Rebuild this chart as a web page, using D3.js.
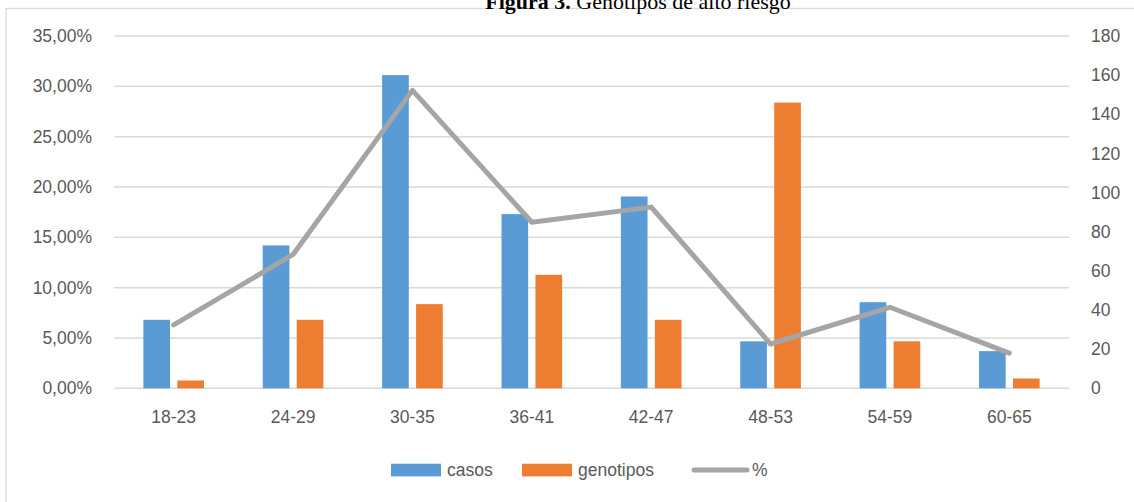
<!DOCTYPE html>
<html>
<head>
<meta charset="utf-8">
<script src="https://cdn.jsdelivr.net/npm/d3@7"></script>
<style>
  html, body { margin: 0; padding: 0; background: #fff; }
  svg { display: block; }
</style>
</head>
<body>
<svg id="chart" width="1134" height="502"></svg>
<script>
const categories = ["18-23", "24-29", "30-35", "36-41", "42-47", "48-53", "54-59", "60-65"];
const casos      = [35, 73, 160, 89, 98, 24, 44, 19];
const genotipos  = [4, 35, 43, 58, 35, 146, 24, 5];
const pct        = [0.063, 0.133, 0.296, 0.165, 0.180, 0.044, 0.0805, 0.035];
const leftTicks  = [0, 0.05, 0.10, 0.15, 0.20, 0.25, 0.30, 0.35];
const rightTicks = [0, 20, 40, 60, 80, 100, 120, 140, 160, 180];
const colors = { casos: "#5B9BD5", genotipos: "#ED7D31", "%": "#A5A5A5" };
const titleBold = "Figura 3.";
const titleRest = " Genotipos de alto riesgo";

const svg = d3.select("#chart");
const textColor = "#595959";
const font = "'Liberation Sans', Arial, sans-serif";
const fs = 17.5;

// chart border (extends past right/bottom edge)
svg.append("rect").attr("x", 6).attr("y", 8.5).attr("width", 1200).attr("height", 600)
  .attr("fill", "none").attr("stroke", "#D9D9D9").attr("stroke-width", 1.3);

// title (partially cut at the top, as in the reference)
const t = svg.append("text").attr("x", 638).attr("y", 8.5).attr("text-anchor", "middle")
  .attr("font-family", "'Liberation Serif', 'Times New Roman', serif").attr("font-size", 22)
  .attr("fill", "#000");
t.append("tspan").attr("font-weight", "bold").text(titleBold);
t.append("tspan").text(titleRest);

const plotLeft = 114, plotRight = 1069, plotTop = 36, plotBottom = 388.3;

const x = d3.scaleBand().domain(categories).range([plotLeft, plotRight]).padding(0);
const bw = x.bandwidth();
const xs = d3.scaleBand().domain(["casos", "genotipos"])
  .range([bw * 0.246, bw * 0.754]).paddingInner(0.215).paddingOuter(0);
const yL = d3.scaleLinear().domain([0, 0.35]).range([plotBottom, plotTop]);
const yR = d3.scaleLinear().domain([0, 180]).range([plotBottom, plotTop]);

// gridlines
svg.append("g").selectAll("line").data(leftTicks).join("line")
  .attr("x1", plotLeft).attr("x2", plotRight)
  .attr("y1", d => yL(d)).attr("y2", d => yL(d))
  .attr("stroke", "#D9D9D9").attr("stroke-width", 1.5);

// left axis
const fmtPct = d => d3.format(".2f")(d * 100).replace(".", ",") + "%";
const axL = svg.append("g").attr("transform", `translate(${plotLeft},0)`)
  .call(d3.axisLeft(yL).tickValues(leftTicks).tickFormat(fmtPct).tickSize(0).tickPadding(22));
axL.select(".domain").remove();
axL.selectAll("text").attr("font-family", font).attr("font-size", fs).attr("fill", textColor);

// right axis
const axR = svg.append("g").attr("transform", `translate(${plotRight},0)`)
  .call(d3.axisRight(yR).tickValues(rightTicks).tickFormat(d3.format("d")).tickSize(0).tickPadding(22));
axR.select(".domain").remove();
axR.selectAll("text").attr("font-family", font).attr("font-size", fs).attr("fill", textColor);

// x axis
const axX = svg.append("g").attr("transform", `translate(0,${plotBottom})`)
  .call(d3.axisBottom(x).tickSize(0).tickPadding(22));
axX.select(".domain").remove();
axX.selectAll("text").attr("font-family", font).attr("font-size", fs).attr("fill", textColor);

// bars
const rows = categories.map((c, i) => ({ cat: c, casos: casos[i], genotipos: genotipos[i] }));
const groups = svg.append("g").selectAll("g").data(rows).join("g")
  .attr("transform", d => `translate(${x(d.cat)},0)`);
groups.selectAll("rect").data(d => ["casos", "genotipos"].map(k => ({ key: k, value: d[k] })))
  .join("rect")
  .attr("x", d => xs(d.key)).attr("width", xs.bandwidth())
  .attr("y", d => yR(d.value)).attr("height", d => yR(0) - yR(d.value))
  .attr("fill", d => colors[d.key]);

// line
const line = d3.line().x((d, i) => x(categories[i]) + bw / 2).y(d => yL(d));
svg.append("path").datum(pct).attr("d", line)
  .attr("fill", "none").attr("stroke", colors["%"]).attr("stroke-width", 5)
  .attr("stroke-linejoin", "round").attr("stroke-linecap", "round");

// legend
const legendY = 470;
const lg = svg.append("g").attr("font-family", font).attr("font-size", fs).attr("fill", textColor);
const legendItems = [
  { name: "casos", x: 391, type: "rect" },
  { name: "genotipos", x: 522, type: "rect" },
  { name: "%", x: 694, type: "line" }
];
legendItems.forEach(it => {
  if (it.type === "rect") {
    lg.append("rect").attr("x", it.x).attr("y", legendY - 6.3).attr("width", 50).attr("height", 12.7)
      .attr("fill", colors[it.name]);
  } else {
    lg.append("line").attr("x1", it.x).attr("x2", it.x + 53).attr("y1", legendY).attr("y2", legendY)
      .attr("stroke", colors[it.name]).attr("stroke-width", 5).attr("stroke-linecap", "round");
  }
  lg.append("text").attr("x", it.x + (it.type === "rect" ? 56 : 58)).attr("y", legendY)
    .attr("dy", "0.35em").text(it.name);
});
</script>
</body>
</html>
